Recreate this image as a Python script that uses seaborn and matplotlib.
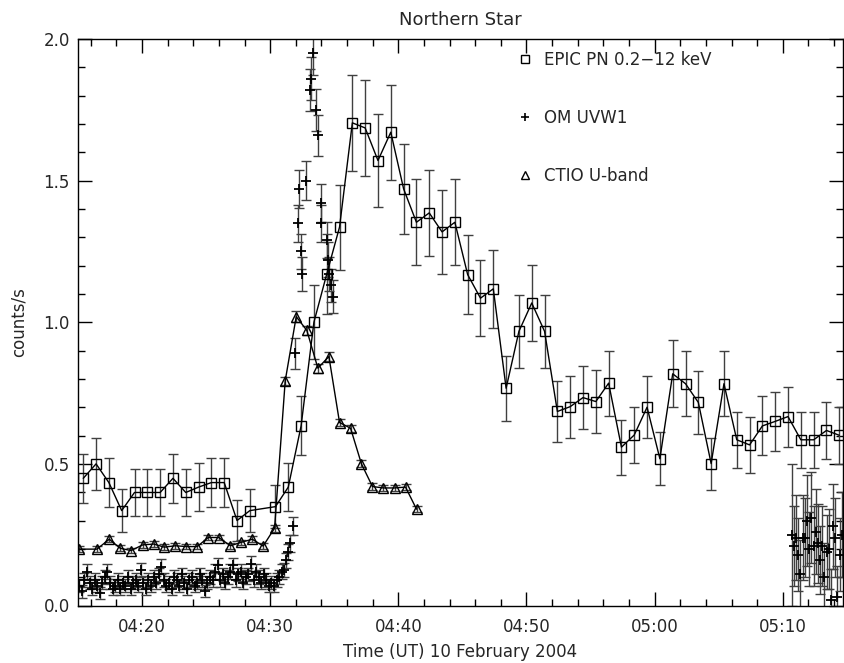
import matplotlib
matplotlib.use("Agg")
import matplotlib.pyplot as plt
import seaborn as sns
import pandas as pd
from matplotlib.lines import Line2D
from matplotlib.ticker import MultipleLocator, FuncFormatter

# ---------------- data (time in minutes after 04:00 UT, 10 Feb 2004) ----------------
epic_t = [15.41, 16.41, 17.41, 18.41, 19.41, 20.41, 21.41, 22.41, 23.41, 24.41,
          25.41, 26.41, 27.41, 28.41, 30.41, 31.41, 32.41, 33.41, 34.41, 35.41,
          36.41, 37.41, 38.41, 39.41, 40.41, 41.41, 42.41, 43.41, 44.41, 45.41,
          46.41, 47.41, 48.41, 49.41, 50.41, 51.41, 52.41, 53.41, 54.41, 55.41,
          56.41, 57.41, 58.41, 59.41, 60.41, 61.41, 62.41, 63.41, 64.41, 65.41,
          66.41, 67.41, 68.41, 69.41, 70.41, 71.41, 72.41, 73.41, 74.41]
epic_v = [0.449, 0.500, 0.434, 0.335, 0.399, 0.399, 0.399, 0.449, 0.399, 0.418,
          0.434, 0.434, 0.300, 0.335, 0.349, 0.418, 0.634, 1.000, 1.170, 1.336,
          1.704, 1.686, 1.571, 1.671, 1.471, 1.353, 1.386, 1.319, 1.353, 1.168,
          1.085, 1.118, 0.767, 0.968, 1.068, 0.968, 0.685, 0.702, 0.734, 0.720,
          0.785, 0.559, 0.602, 0.700, 0.518, 0.818, 0.783, 0.717, 0.501, 0.783,
          0.585, 0.567, 0.634, 0.650, 0.667, 0.585, 0.585, 0.618, 0.601]
epic_err = [0.087, 0.092, 0.086, 0.075, 0.082, 0.082, 0.082, 0.087, 0.082, 0.084,
            0.086, 0.086, 0.071, 0.075, 0.077, 0.084, 0.104, 0.130, 0.140, 0.150,
            0.170, 0.169, 0.163, 0.168, 0.158, 0.151, 0.153, 0.149, 0.151, 0.140,
            0.135, 0.137, 0.114, 0.128, 0.134, 0.128, 0.108, 0.109, 0.111, 0.110,
            0.115, 0.097, 0.100, 0.109, 0.094, 0.118, 0.115, 0.110, 0.092, 0.115,
            0.099, 0.098, 0.104, 0.105, 0.106, 0.099, 0.099, 0.102, 0.100]

ctio_t = [15.10, 16.48, 17.44, 18.30, 19.14, 20.05, 20.91, 21.74, 22.60, 23.44,
          24.30, 25.16, 25.98, 26.90, 27.73, 28.60, 29.45, 30.34, 31.17, 32.03,
          32.86, 33.72, 34.58, 35.41, 36.27, 37.12, 37.98, 38.84, 39.70, 40.56,
          41.42]
ctio_v = [0.199, 0.199, 0.234, 0.202, 0.194, 0.214, 0.217, 0.206, 0.211, 0.208,
          0.208, 0.240, 0.240, 0.211, 0.223, 0.234, 0.210, 0.273, 0.793, 1.020,
          0.971, 0.838, 0.879, 0.646, 0.626, 0.500, 0.420, 0.415, 0.415, 0.418,
          0.340]
ctio_err = [0.010, 0.010, 0.010, 0.010, 0.010, 0.010, 0.010, 0.010, 0.010, 0.010,
            0.010, 0.010, 0.010, 0.010, 0.010, 0.010, 0.010, 0.012, 0.015, 0.018,
            0.017, 0.016, 0.016, 0.013, 0.013, 0.012, 0.011, 0.011, 0.011, 0.011,
            0.010]

om_t = [15.1, 15.3, 15.5, 15.7, 15.9, 16.1, 16.3, 16.5, 16.7, 16.9,
        17.1, 17.3, 17.5, 17.7, 17.9, 18.1, 18.3, 18.5, 18.7, 18.9,
        19.1, 19.3, 19.5, 19.7, 19.9, 20.1, 20.3, 20.5, 20.7, 20.9,
        21.1, 21.3, 21.5, 21.7, 21.9, 22.1, 22.3, 22.5, 22.7, 22.9,
        23.1, 23.3, 23.5, 23.7, 23.9, 24.1, 24.3, 24.5, 24.7, 24.9,
        25.1, 25.3, 25.5, 25.7, 25.9, 26.1, 26.3, 26.5, 26.7, 26.9,
        27.1, 27.3, 27.5, 27.7, 27.9, 28.1, 28.3, 28.5, 28.7, 28.9,
        29.1, 29.3, 29.5, 29.7, 29.9, 30.1, 30.3, 30.5, 30.7, 30.9,
        31.05, 31.25, 31.40, 31.55, 31.77, 31.95, 32.16, 32.22, 32.42, 32.50,
        32.76, 33.07, 33.15, 33.33, 33.60, 33.70, 33.93, 34.00, 34.42, 34.50,
        34.60, 34.77, 34.90,
        70.70, 70.87, 71.04, 71.21, 71.38, 71.55, 71.72, 71.89, 72.06, 72.23,
        72.40, 72.57, 72.74, 72.91, 73.08, 73.25, 73.42, 73.59, 73.76, 73.93,
        74.10, 74.27, 74.44, 74.61]
om_v = [0.07, 0.05, 0.09, 0.12, 0.08, 0.06, 0.09, 0.07, 0.045, 0.08,
        0.10, 0.12, 0.08, 0.06, 0.07, 0.09, 0.06, 0.08, 0.07, 0.10,
        0.06, 0.08, 0.09, 0.07, 0.125, 0.08, 0.06, 0.09, 0.07, 0.10,
        0.08, 0.11, 0.137, 0.09, 0.07, 0.08, 0.06, 0.10, 0.09, 0.07,
        0.11, 0.08, 0.06, 0.09, 0.10, 0.07, 0.08, 0.11, 0.09, 0.05,
        0.08, 0.10, 0.09, 0.12, 0.143, 0.09, 0.11, 0.08, 0.10, 0.12,
        0.143, 0.09, 0.11, 0.12, 0.08, 0.10, 0.11, 0.147, 0.09, 0.12,
        0.10, 0.08, 0.11, 0.09, 0.07, 0.08, 0.07, 0.09, 0.10, 0.12,
        0.125, 0.16, 0.19, 0.22, 0.28, 0.89, 1.35, 1.47, 1.25, 1.17,
        1.50, 1.82, 1.86, 1.95, 1.75, 1.66, 1.42, 1.35, 1.29, 1.22,
        1.17, 1.13, 1.09,
        0.25, 0.21, 0.24, 0.18, 0.11, 0.24, 0.24, 0.30, 0.20, 0.31,
        0.21, 0.26, 0.22, 0.16, 0.21, 0.10, 0.19, 0.20, 0.02, 0.28,
        0.24, 0.03, 0.18, 0.25]
om_err = [0.022, 0.022, 0.024, 0.025, 0.023, 0.022, 0.024, 0.023, 0.021, 0.023,
          0.024, 0.025, 0.023, 0.022, 0.023, 0.024, 0.022, 0.023, 0.023, 0.024,
          0.022, 0.023, 0.024, 0.023, 0.025, 0.023, 0.022, 0.024, 0.023, 0.024,
          0.023, 0.024, 0.026, 0.024, 0.023, 0.023, 0.022, 0.024, 0.024, 0.023,
          0.024, 0.023, 0.022, 0.024, 0.024, 0.023, 0.023, 0.024, 0.024, 0.021,
          0.023, 0.024, 0.024, 0.025, 0.026, 0.024, 0.024, 0.023, 0.024, 0.025,
          0.026, 0.024, 0.024, 0.025, 0.023, 0.024, 0.024, 0.026, 0.024, 0.025,
          0.024, 0.023, 0.024, 0.024, 0.023, 0.023, 0.023, 0.024, 0.024, 0.025,
          0.025, 0.027, 0.028, 0.030, 0.032, 0.055, 0.065, 0.068, 0.063, 0.060,
          0.070, 0.075, 0.076, 0.078, 0.074, 0.072, 0.067, 0.065, 0.063, 0.062,
          0.060, 0.059, 0.058,
          0.25, 0.14, 0.15, 0.13, 0.12, 0.15, 0.14, 0.16, 0.13, 0.16,
          0.14, 0.15, 0.14, 0.12, 0.14, 0.12, 0.13, 0.14, 0.11, 0.15,
          0.14, 0.11, 0.13, 0.15]

series_labels = ["EPIC PN 0.2\u221212 keV", "OM UVW1", "CTIO U-band"]

# ---------------- style ----------------
sns.set_style("ticks")
plt.rcParams["font.family"] = ["DejaVu Sans"]
plt.rcParams["font.size"] = 12

fig = plt.figure(figsize=(8.44, 6.63), dpi=100)
ax = fig.add_axes([78 / 844, 1 - 605.5 / 663, (843 - 78) / 844, (605.5 - 39) / 663])

ekw = dict(fmt="none", ecolor="0.25", elinewidth=1.0, capsize=3.6, capthick=1.0)

# error bars
ax.errorbar(om_t, om_v, yerr=om_err, zorder=1, **ekw)
ax.errorbar(epic_t, epic_v, yerr=epic_err, zorder=2, **ekw)
ax.errorbar(ctio_t, ctio_v, yerr=ctio_err, zorder=2, **ekw)

# data series
df_epic = pd.DataFrame({"t": epic_t, "v": epic_v})
df_ctio = pd.DataFrame({"t": ctio_t, "v": ctio_v})
df_om = pd.DataFrame({"t": om_t, "v": om_v})

sns.lineplot(data=df_epic, x="t", y="v", ax=ax, color="black", linewidth=1.0,
             marker="s", markersize=7.5, markerfacecolor="none",
             markeredgecolor="black", markeredgewidth=1.0, sort=False,
             estimator=None, zorder=4)
sns.lineplot(data=df_ctio, x="t", y="v", ax=ax, color="black", linewidth=1.0,
             marker="^", markersize=7, markerfacecolor="none",
             markeredgecolor="black", markeredgewidth=1.0, sort=False,
             estimator=None, zorder=4)
sns.scatterplot(data=df_om, x="t", y="v", ax=ax, marker="+", color="black",
                s=45, linewidth=1.3, zorder=3)

# ---------------- axes ----------------
ax.set_xlim(15.0, 74.7)
ax.set_ylim(0.0, 2.0)
ax.xaxis.set_major_locator(MultipleLocator(10))
ax.xaxis.set_minor_locator(MultipleLocator(2))
ax.yaxis.set_major_locator(MultipleLocator(0.5))
ax.yaxis.set_minor_locator(MultipleLocator(0.1))
ax.xaxis.set_major_formatter(FuncFormatter(
    lambda m, p: f"{4 + int(round(m)) // 60:02d}:{int(round(m)) % 60:02d}"))
ax.yaxis.set_major_formatter(FuncFormatter(lambda v, p: f"{v:.1f}"))
ax.tick_params(which="both", direction="in", top=True, right=True,
               color="black", width=1.0, labelsize=12)
ax.tick_params(which="major", length=10)
ax.tick_params(which="minor", length=5)
ax.tick_params(axis="x", which="major", pad=9)
ax.tick_params(axis="y", which="major", pad=6)
for s in ax.spines.values():
    s.set_linewidth(1.0)
    s.set_color("black")

ax.set_xlabel("Time (UT) 10 February 2004", fontsize=12, labelpad=5)
ax.set_ylabel("counts/s", fontsize=12, labelpad=11)
ax.set_title("Northern Star", fontsize=13, pad=10)

handles = [
    Line2D([], [], ls="none", marker="s", ms=6, mfc="none", mec="black", mew=1.0),
    Line2D([], [], ls="none", marker="+", ms=6, color="black", mew=1.2),
    Line2D([], [], ls="none", marker="^", ms=6, mfc="none", mec="black", mew=1.0),
]
ax.legend(handles, series_labels, loc="upper left",
          bbox_to_anchor=((517 - 78) / 765, (605.5 - 51) / 566.5),
          frameon=False, fontsize=12, borderpad=0, borderaxespad=0,
          handlelength=1.0, handletextpad=0.6, labelspacing=2.4)

fig.savefig("out.png", dpi=100)
